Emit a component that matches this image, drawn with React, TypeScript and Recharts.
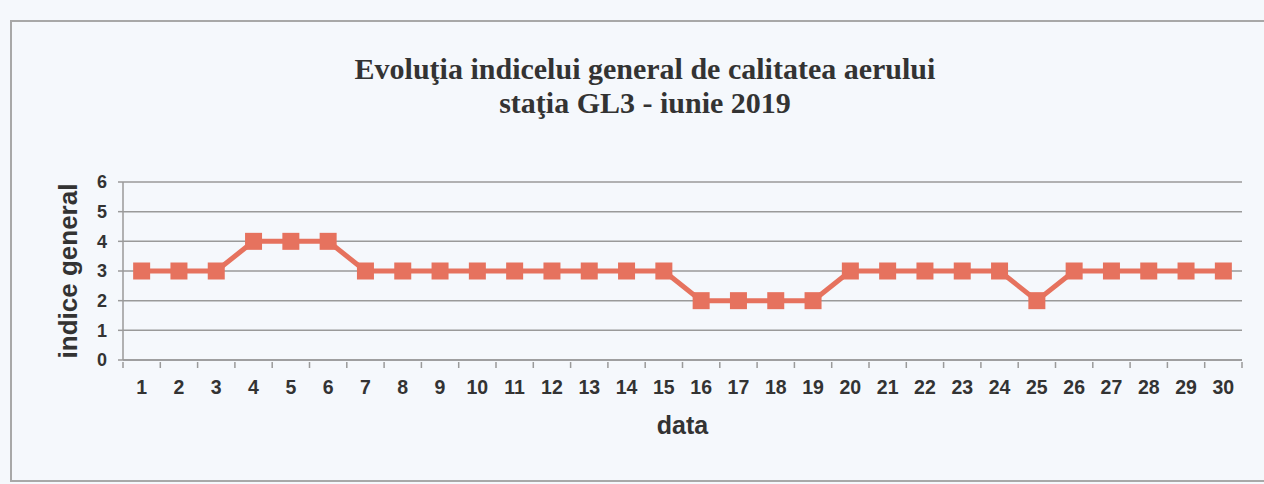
import { LineChart, Line, XAxis, YAxis, CartesianGrid, Label } from 'recharts';

const days = Array.from({ length: 30 }, (_, i) => String(i + 1));
const indexValues = [3, 3, 3, 4, 4, 4, 3, 3, 3, 3, 3, 3, 3, 3, 3, 2, 2, 2, 2, 3, 3, 3, 3, 3, 2, 3, 3, 3, 3, 3];
const yTicks = [0, 1, 2, 3, 4, 5, 6];
const titleLines = ['Evoluţia indicelui general de calitatea aerului', 'staţia GL3 - iunie 2019'];

const data = days.map((d, i) => ({ day: d, value: indexValues[i] }));

const LINE_COLOR = '#e6725e';
const GRID_COLOR = '#9a9a9a';
const SANS = 'Liberation Sans, Arial, sans-serif';
const PLOT_WIDTH = 1119;
const HALF_BAND = PLOT_WIDTH / days.length / 2;

function SquareDot(props: any) {
    const { cx, cy } = props;
    if (cx == null || cy == null) return null;
    return <rect x={cx - 8.5} y={cy - 8.5} width={17} height={17} fill={LINE_COLOR} />;
}

function DayTick(props: any) {
    const { x, y, payload, index } = props;
    return (
        <g>
            <line x1={x - HALF_BAND} y1={y} x2={x - HALF_BAND} y2={y + 6} stroke={GRID_COLOR} strokeWidth={1.5} />
            {index === days.length - 1 && (
                <line x1={x + HALF_BAND} y1={y} x2={x + HALF_BAND} y2={y + 6} stroke={GRID_COLOR} strokeWidth={1.5} />
            )}
            <text x={x} y={y + 32} textAnchor="middle" fontSize={19.5} fontWeight="bold" fill="#333" fontFamily={SANS}>
                {payload.value}
            </text>
        </g>
    );
}

export default function App() {
    return (
        <div style={{ position: 'absolute', left: 0, top: 0, width: 1264, height: 484, background: '#f5f8fc', overflow: 'hidden' }}>
            <div style={{ position: 'absolute', left: 10, top: 20, width: 1270, height: 462, border: '2px solid #a8a8a8', boxSizing: 'border-box' }} />
            <div style={{ position: 'absolute', left: 0, top: 52, width: 1290, textAlign: 'center', fontFamily: 'Liberation Serif, Times New Roman, serif', fontWeight: 'bold', fontSize: 30, color: '#333', lineHeight: '34px' }}>
                {titleLines.map((t) => (
                    <div key={t}>{t}</div>
                ))}
            </div>
            <LineChart
                width={1264}
                height={484}
                data={data}
                margin={{ top: 182, right: 22, bottom: 44, left: 83 }}
                style={{ position: 'absolute', left: 0, top: 0 }}
            >
                <CartesianGrid vertical={false} stroke={GRID_COLOR} strokeWidth={1.5} />
                <XAxis
                    dataKey="day"
                    height={80}
                    padding={{ left: HALF_BAND, right: HALF_BAND }}
                    axisLine={{ stroke: GRID_COLOR, strokeWidth: 1.5 }}
                    tickLine={false}
                    tickSize={0}
                    interval={0}
                    tick={<DayTick />}
                >
                    <Label value="data" position="insideBottom" offset={0} dy={-6} fontSize={25} fontWeight="bold" fill="#333" fontFamily={SANS} />
                </XAxis>
                <YAxis
                    width={40}
                    domain={[0, 6]}
                    ticks={yTicks}
                    interval={0}
                    axisLine={{ stroke: GRID_COLOR, strokeWidth: 1.5 }}
                    tickLine={{ stroke: GRID_COLOR, strokeWidth: 1.5 }}
                    tickSize={5}
                    tickMargin={11}
                    tick={{ fontSize: 18, fontWeight: 'bold', fill: '#333', fontFamily: SANS }}
                >
                    <Label value="indice general" angle={-90} position="insideLeft" dx={-20} fontSize={26} fontWeight="bold" fill="#333" fontFamily={SANS} style={{ textAnchor: 'middle' }} />
                </YAxis>
                <YAxis yAxisId="right" orientation="right" width={0} tick={false} axisLine={{ stroke: GRID_COLOR, strokeWidth: 1.5 }} tickLine={false} domain={[0, 6]} />
                <Line
                    type="linear"
                    dataKey="value"
                    stroke={LINE_COLOR}
                    strokeWidth={5}
                    dot={<SquareDot />}
                    activeDot={false}
                    isAnimationActive={false}
                />
            </LineChart>
        </div>
    );
}
